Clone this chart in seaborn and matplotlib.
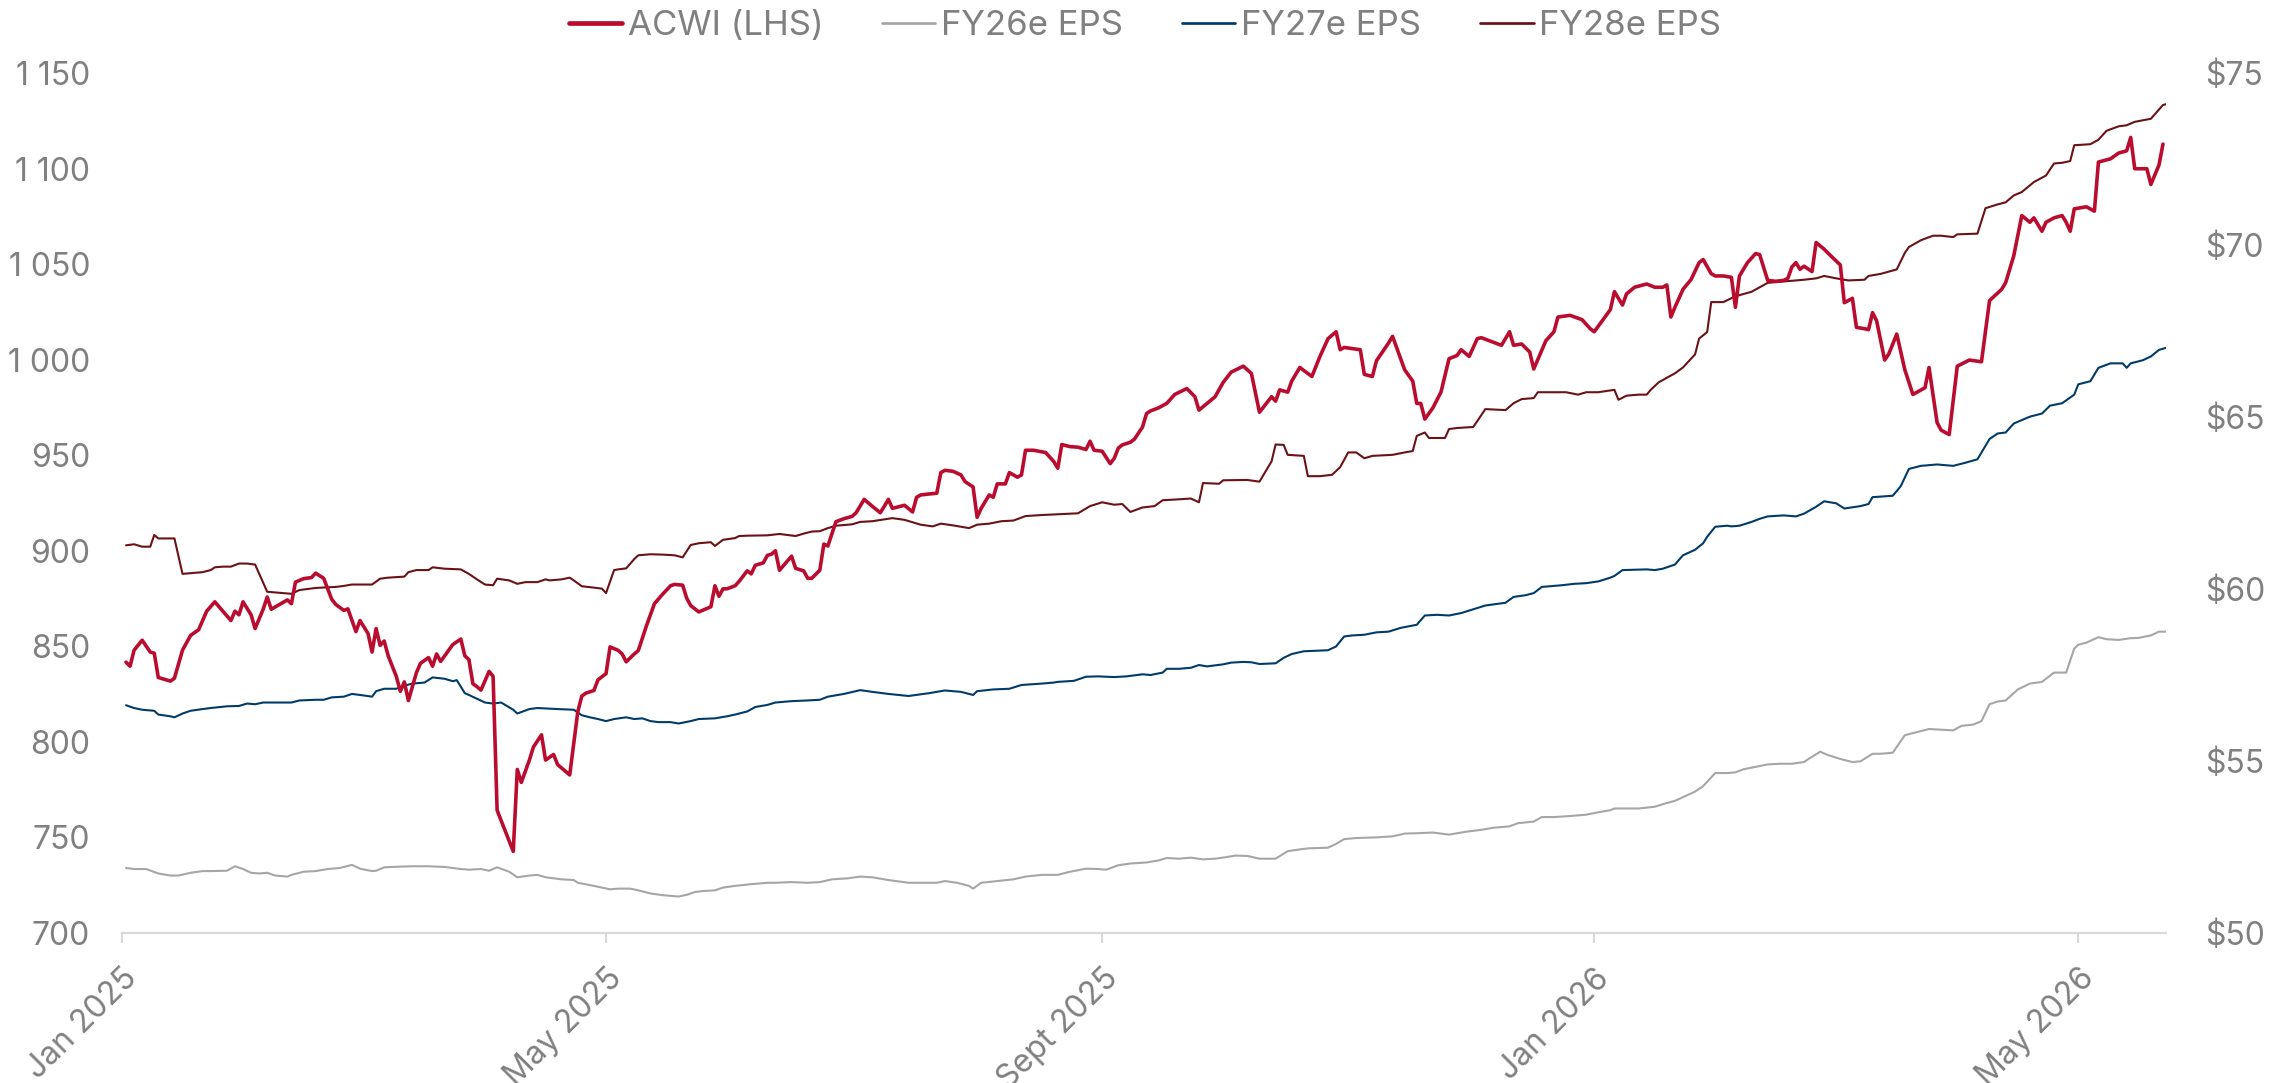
import pandas as pd
import seaborn as sns
import matplotlib.pyplot as plt
import matplotlib.transforms as mtransforms

# days counted from 1 Jan 2025
acwi_obs = [
    (1, 841.7), (2, 839.6), (3, 848.0), (5, 853.2), (7, 847.0), (8, 846.4), (9, 833.7), (12, 831.8),
    (13, 833.3), (15, 848.0), (17, 855.7), (19, 858.7), (21, 868.4), (23, 873.3), (25, 868.4), (27, 863.5),
    (28, 868.4), (29, 866.5), (30, 873.3), (32, 866.5), (33, 859.3), (35, 869.4), (36, 875.8), (37, 869.4),
    (41, 874.3), (42, 872.3), (43, 883.6), (45, 885.4), (47, 886.0), (48, 888.3), (50, 885.6), (52, 874.6),
    (53, 871.9), (55, 868.8), (56, 869.6), (58, 857.7), (59, 863.5), (61, 856.7), (62, 847.0), (63, 859.3),
    (64, 850.5), (65, 852.8), (66, 845.0), (68, 834.3), (69, 826.5), (70, 831.4), (71, 821.6), (73, 836.3),
    (74, 841.1), (76, 844.1), (77, 839.6), (78, 846.0), (79, 842.1), (82, 850.9), (84, 853.8), (85, 845.0),
    (86, 843.1), (87, 830.4), (88, 828.9), (89, 827.1), (91, 836.9), (92, 834.3), (93, 764.2), (95, 753.5),
    (97, 742.7), (98, 785.6), (99, 778.8), (101, 790.5), (102, 797.3), (104, 803.7), (105, 790.5), (107, 793.4),
    (108, 788.1), (111, 782.7), (113, 815.8), (114, 824.0), (115, 825.5), (117, 826.9), (118, 832.5), (120, 835.7),
    (121, 849.7), (123, 847.9), (124, 846.0), (125, 841.9), (127, 846.0), (128, 847.8), (130, 860.6), (132, 872.3),
    (134, 877.2), (136, 881.7), (137, 882.4), (139, 882.0), (140, 875.2), (141, 871.3), (143, 868.0), (145, 869.8),
    (146, 870.7), (147, 881.7), (148, 876.2), (149, 880.1), (150, 880.1), (152, 881.7), (153, 884.0), (155, 889.5),
    (156, 887.9), (157, 892.4), (159, 893.7), (160, 897.6), (161, 898.2), (162, 900.0), (163, 889.8), (166, 897.2),
    (167, 890.8), (169, 889.5), (170, 885.6), (171, 885.6), (173, 889.8), (174, 903.5), (175, 902.5), (177, 915.2),
    (179, 916.8), (181, 918.0), (182, 919.9), (184, 926.9), (186, 923.3), (188, 919.9), (189, 923.3), (190, 926.9),
    (191, 922.2), (193, 923.3), (194, 923.8), (196, 920.3), (197, 928.0), (198, 929.2), (200, 929.7), (202, 930.1),
    (203, 940.9), (204, 942.1), (206, 941.6), (208, 939.7), (209, 936.2), (211, 933.4), (212, 917.5), (213, 922.2),
    (215, 929.2), (216, 928.0), (217, 935.0), (219, 935.0), (220, 940.9), (222, 938.5), (223, 939.7), (224, 952.6),
    (226, 952.6), (229, 951.4), (231, 946.7), (232, 943.2), (233, 955.6), (235, 954.5), (237, 954.2), (239, 953.0),
    (240, 957.3), (241, 952.6), (243, 952.1), (245, 945.6), (246, 948.4), (247, 953.7), (248, 955.4), (250, 956.8),
    (251, 958.4), (253, 964.7), (254, 971.8), (255, 973.2), (257, 974.8), (259, 977.1), (261, 981.8), (264, 984.9),
    (266, 980.6), (267, 973.6), (269, 977.1), (271, 980.6), (273, 988.1), (275, 993.5), (278, 996.6), (280, 992.8),
    (282, 972.5), (285, 980.6), (286, 978.3), (287, 984.2), (289, 983.0), (290, 988.8), (292, 995.9), (295, 991.2),
    (297, 1001.7), (299, 1011.0), (301, 1014.6), (302, 1005.2), (303, 1006.4), (307, 1005.2), (308, 992.3), (310, 991.2),
    (311, 999.4), (314, 1008.7), (315, 1012.2), (318, 994.7), (320, 988.8), (321, 977.1), (322, 977.1), (323, 968.9),
    (325, 974.8), (327, 983.0), (329, 1000.5), (331, 1002.2), (332, 1005.2), (334, 1001.7), (336, 1011.0), (337, 1011.5),
    (339, 1009.9), (342, 1007.5), (344, 1014.6), (345, 1007.5), (347, 1008.2), (349, 1004.0), (350, 995.1), (353, 1009.9),
    (355, 1014.6), (356, 1022.3), (359, 1023.2), (362, 1020.9), (364, 1016.2), (365, 1014.6), (367, 1020.4), (369, 1026.2),
    (370, 1035.6), (372, 1028.6), (373, 1034.4), (375, 1037.9), (378, 1039.6), (380, 1037.9), (382, 1037.9), (383, 1039.1),
    (384, 1022.3), (385, 1027.4), (387, 1036.8), (389, 1041.9), (391, 1050.8), (392, 1052.4), (394, 1045.0), (395, 1043.8),
    (397, 1043.8), (399, 1043.1), (400, 1027.4), (401, 1043.8), (403, 1050.8), (405, 1055.5), (406, 1055.0), (408, 1041.5),
    (410, 1041.0), (412, 1041.5), (413, 1042.6), (414, 1048.5), (415, 1050.8), (416, 1047.3), (417, 1048.9), (419, 1046.1),
    (420, 1061.3), (422, 1057.8), (424, 1053.6), (426, 1049.6), (427, 1029.8), (429, 1032.1), (430, 1016.9), (432, 1016.2),
    (433, 1015.7), (434, 1024.6), (435, 1020.4), (437, 999.8), (438, 1002.9), (440, 1013.4), (442, 994.7), (444, 981.8),
    (447, 985.3), (448, 995.9), (450, 967.1), (451, 963.1), (453, 960.8), (455, 996.6), (458, 999.8), (461, 998.9),
    (463, 1030.9), (466, 1036.8), (467, 1040.3), (469, 1054.3), (471, 1075.4), (473, 1071.9), (474, 1074.2), (476, 1067.2),
    (477, 1071.9), (479, 1074.2), (481, 1075.4), (482, 1071.9), (483, 1067.2), (484, 1078.9), (487, 1080.0), (489, 1077.7),
    (490, 1103.4), (493, 1105.1), (495, 1108.1), (497, 1109.3), (498, 1116.3), (499, 1099.9), (502, 1099.9), (503, 1091.7),
    (505, 1101.8), (506, 1112.8),
]

fy26_obs = [
    (1, 51.89), (3, 51.86), (6, 51.86), (9, 51.73), (12, 51.67), (14, 51.67), (17, 51.75), (20, 51.80),
    (22, 51.80), (26, 51.81), (28, 51.94), (30, 51.86), (32, 51.75), (34, 51.73), (36, 51.75), (38, 51.67),
    (41, 51.64), (42, 51.69), (45, 51.78), (48, 51.80), (51, 51.86), (54, 51.89), (57, 51.98), (59, 51.87),
    (62, 51.80), (63, 51.81), (65, 51.91), (69, 51.93), (72, 51.94), (76, 51.94), (80, 51.92), (82, 51.89),
    (84, 51.86), (86, 51.84), (89, 51.86), (91, 51.81), (93, 51.91), (96, 51.78), (98, 51.62), (101, 51.67),
    (103, 51.69), (105, 51.62), (109, 51.56), (112, 51.54), (113, 51.46), (117, 51.37), (121, 51.27), (123, 51.29),
    (126, 51.29), (128, 51.24), (131, 51.15), (134, 51.10), (138, 51.06), (140, 51.11), (142, 51.19), (144, 51.22),
    (147, 51.24), (149, 51.32), (152, 51.37), (156, 51.42), (160, 51.46), (162, 51.46), (166, 51.48), (170, 51.46),
    (173, 51.48), (176, 51.56), (180, 51.59), (183, 51.64), (186, 51.62), (190, 51.54), (195, 51.46), (199, 51.46),
    (202, 51.46), (204, 51.51), (207, 51.46), (210, 51.37), (211, 51.29), (213, 51.46), (217, 51.51), (221, 51.56),
    (224, 51.64), (228, 51.69), (232, 51.69), (235, 51.78), (239, 51.87), (242, 51.86), (244, 51.84), (247, 51.97),
    (250, 52.02), (254, 52.05), (257, 52.11), (259, 52.18), (262, 52.16), (265, 52.19), (268, 52.14), (271, 52.16),
    (274, 52.21), (276, 52.25), (279, 52.24), (282, 52.16), (286, 52.16), (289, 52.38), (292, 52.43), (294, 52.46),
    (299, 52.48), (301, 52.59), (303, 52.73), (306, 52.76), (311, 52.78), (315, 52.81), (318, 52.89), (321, 52.90),
    (325, 52.92), (329, 52.86), (333, 52.94), (337, 53.00), (340, 53.06), (344, 53.10), (346, 53.19), (350, 53.24),
    (352, 53.37), (355, 53.37), (359, 53.40), (363, 53.44), (366, 53.51), (369, 53.57), (370, 53.62), (376, 53.62),
    (380, 53.67), (383, 53.78), (385, 53.84), (387, 53.95), (390, 54.11), (392, 54.27), (395, 54.65), (398, 54.65),
    (400, 54.67), (402, 54.76), (405, 54.83), (408, 54.90), (411, 54.92), (414, 54.92), (417, 54.97), (418, 55.05),
    (421, 55.27), (423, 55.17), (426, 55.06), (429, 54.97), (431, 54.99), (434, 55.21), (436, 55.21), (439, 55.24),
    (442, 55.75), (445, 55.84), (448, 55.93), (451, 55.91), (454, 55.89), (456, 56.02), (459, 56.06), (461, 56.16),
    (463, 56.65), (465, 56.73), (467, 56.76), (470, 57.08), (473, 57.25), (476, 57.30), (479, 57.57), (482, 57.57),
    (484, 58.27), (485, 58.38), (487, 58.44), (490, 58.60), (492, 58.54), (495, 58.52), (498, 58.57), (500, 58.58),
    (503, 58.65), (505, 58.76), (507, 58.76),
]

fy27_obs = [
    (1, 56.62), (3, 56.54), (5, 56.49), (8, 56.46), (9, 56.35), (12, 56.30), (13, 56.27), (15, 56.38),
    (17, 56.46), (20, 56.51), (22, 56.54), (26, 56.59), (29, 56.60), (31, 56.67), (33, 56.65), (35, 56.70),
    (39, 56.70), (42, 56.70), (44, 56.76), (48, 56.78), (50, 56.78), (52, 56.85), (55, 56.87), (57, 56.95),
    (59, 56.92), (62, 56.87), (63, 57.03), (65, 57.10), (68, 57.10), (70, 57.19), (72, 57.25), (75, 57.28),
    (77, 57.43), (80, 57.39), (82, 57.32), (83, 57.35), (85, 56.97), (86, 56.92), (88, 56.81), (90, 56.70),
    (92, 56.67), (94, 56.70), (95, 56.63), (97, 56.49), (98, 56.38), (101, 56.51), (103, 56.54), (108, 56.51),
    (112, 56.49), (114, 56.33), (116, 56.27), (118, 56.22), (120, 56.16), (122, 56.22), (125, 56.27), (127, 56.22),
    (129, 56.24), (131, 56.16), (133, 56.13), (136, 56.13), (138, 56.09), (141, 56.16), (143, 56.22), (147, 56.24),
    (150, 56.30), (152, 56.35), (155, 56.44), (157, 56.57), (160, 56.63), (162, 56.70), (166, 56.74), (170, 56.76),
    (173, 56.78), (175, 56.87), (179, 56.95), (183, 57.06), (186, 57.01), (190, 56.95), (195, 56.89), (200, 56.97),
    (204, 57.05), (208, 57.01), (211, 56.92), (212, 57.03), (216, 57.08), (220, 57.10), (223, 57.21), (228, 57.25),
    (231, 57.28), (232, 57.30), (236, 57.33), (239, 57.45), (242, 57.46), (246, 57.44), (249, 57.46), (253, 57.52),
    (255, 57.50), (258, 57.57), (259, 57.68), (262, 57.68), (265, 57.71), (267, 57.79), (269, 57.75), (273, 57.81),
    (275, 57.86), (278, 57.88), (280, 57.87), (282, 57.82), (286, 57.84), (288, 58.00), (290, 58.11), (293, 58.19),
    (299, 58.22), (301, 58.33), (303, 58.62), (305, 58.65), (308, 58.67), (311, 58.74), (314, 58.76), (317, 58.87),
    (321, 58.96), (323, 59.23), (326, 59.25), (329, 59.23), (332, 59.30), (335, 59.41), (338, 59.52), (343, 59.60),
    (345, 59.77), (348, 59.82), (350, 59.88), (352, 60.06), (354, 60.08), (357, 60.11), (360, 60.15), (363, 60.17),
    (366, 60.22), (369, 60.33), (370, 60.38), (372, 60.55), (378, 60.57), (380, 60.55), (382, 60.59), (385, 60.71),
    (387, 60.98), (390, 61.14), (392, 61.33), (393, 61.52), (395, 61.81), (398, 61.84), (399, 61.82), (401, 61.84),
    (404, 61.95), (406, 62.04), (408, 62.11), (412, 62.14), (415, 62.11), (417, 62.19), (420, 62.39), (422, 62.55),
    (425, 62.49), (427, 62.34), (431, 62.41), (433, 62.47), (434, 62.67), (439, 62.71), (441, 62.99), (443, 63.49),
    (446, 63.58), (450, 63.62), (454, 63.58), (457, 63.67), (460, 63.77), (463, 64.36), (465, 64.52), (467, 64.55),
    (469, 64.81), (473, 65.01), (476, 65.10), (478, 65.33), (481, 65.40), (484, 65.65), (485, 65.95), (488, 66.04),
    (490, 66.43), (493, 66.56), (496, 66.56), (497, 66.43), (498, 66.56), (501, 66.65), (503, 66.76), (505, 66.95),
    (507, 67.02),
]

fy28_obs = [
    (1, 61.27), (3, 61.30), (5, 61.23), (7, 61.23), (8, 61.57), (9, 61.47), (13, 61.47), (15, 60.44),
    (17, 60.46), (20, 60.49), (22, 60.55), (23, 60.63), (25, 60.65), (27, 60.65), (29, 60.74), (31, 60.74),
    (33, 60.71), (36, 59.92), (38, 59.90), (42, 59.86), (44, 59.97), (48, 60.03), (51, 60.05), (53, 60.06),
    (55, 60.09), (57, 60.13), (62, 60.13), (64, 60.30), (66, 60.33), (70, 60.36), (71, 60.49), (73, 60.55),
    (76, 60.55), (77, 60.63), (80, 60.59), (84, 60.57), (86, 60.44), (88, 60.28), (90, 60.13), (92, 60.11),
    (93, 60.30), (96, 60.25), (98, 60.15), (100, 60.20), (103, 60.20), (105, 60.28), (106, 60.25), (109, 60.28),
    (111, 60.33), (112, 60.25), (114, 60.08), (117, 60.04), (119, 60.01), (120, 59.88), (122, 60.55), (123, 60.57),
    (125, 60.60), (127, 60.87), (128, 60.98), (131, 61.01), (134, 61.00), (137, 60.98), (139, 60.92), (141, 61.28),
    (143, 61.33), (146, 61.36), (147, 61.25), (149, 61.43), (152, 61.48), (153, 61.54), (155, 61.55), (160, 61.56),
    (163, 61.60), (165, 61.57), (167, 61.54), (169, 61.61), (171, 61.67), (173, 61.68), (175, 61.77), (177, 61.84),
    (181, 61.88), (183, 61.95), (186, 61.97), (191, 62.06), (194, 62.01), (198, 61.87), (201, 61.82), (203, 61.90),
    (206, 61.85), (210, 61.77), (212, 61.87), (215, 61.90), (218, 61.97), (221, 61.99), (224, 62.12), (228, 62.15),
    (237, 62.20), (240, 62.41), (243, 62.52), (246, 62.45), (248, 62.47), (250, 62.24), (253, 62.37), (256, 62.41),
    (258, 62.58), (261, 62.60), (265, 62.63), (267, 62.52), (268, 63.08), (272, 63.06), (273, 63.16), (279, 63.17),
    (282, 63.12), (285, 63.71), (286, 64.20), (288, 64.19), (289, 63.90), (293, 63.87), (294, 63.28), (297, 63.28),
    (300, 63.32), (302, 63.54), (304, 63.97), (306, 63.97), (308, 63.80), (310, 63.87), (315, 63.90), (318, 63.97),
    (320, 64.01), (321, 64.45), (323, 64.55), (324, 64.39), (328, 64.39), (329, 64.65), (331, 64.68), (335, 64.71),
    (336, 64.88), (338, 65.23), (343, 65.20), (345, 65.40), (347, 65.52), (350, 65.55), (351, 65.72), (354, 65.72),
    (358, 65.72), (361, 65.65), (363, 65.72), (366, 65.72), (370, 65.79), (371, 65.50), (373, 65.62), (376, 65.65),
    (378, 65.65), (379, 65.79), (381, 66.01), (383, 66.14), (385, 66.27), (387, 66.44), (390, 66.82), (391, 67.28),
    (393, 67.47), (394, 68.34), (397, 68.34), (400, 68.51), (404, 68.64), (406, 68.77), (408, 68.90), (412, 68.94),
    (417, 68.99), (420, 69.03), (422, 69.10), (425, 69.03), (428, 68.97), (432, 68.99), (433, 69.10), (436, 69.16),
    (440, 69.29), (442, 69.77), (443, 69.94), (446, 70.14), (449, 70.27), (451, 70.27), (454, 70.23), (455, 70.31),
    (460, 70.33), (462, 71.07), (465, 71.18), (467, 71.24), (469, 71.44), (471, 71.54), (474, 71.83), (477, 72.02),
    (479, 72.37), (481, 72.39), (483, 72.44), (484, 72.90), (488, 72.93), (490, 73.06), (492, 73.32), (495, 73.45),
    (497, 73.48), (499, 73.58), (503, 73.67), (506, 74.07), (507, 74.10),
]

tick_dates = ["2025-01-01", "2025-05-01", "2025-09-01", "2026-01-01", "2026-05-01"]
tick_labels = ["Jan 2025", "May 2025", "Sept 2025", "Jan 2026", "May 2026"]

series_names = ["ACWI (LHS)", "FY26e EPS", "FY27e EPS", "FY28e EPS"]
colors = ["#BA0C2F", "#A6A6A6", "#003B6A", "#6B1216"]

start = pd.Timestamp("2025-01-01")


def to_frame(obs):
    df = pd.DataFrame(obs, columns=["day", "value"])
    df["date"] = start + pd.to_timedelta(df["day"], unit="D")
    return df


sns.set_theme(style="white")
plt.rcParams["font.family"] = ["Inter", "DejaVu Sans"]
text_grey = "#808080"
axis_grey = "#D9D9D9"
fs = 23

fig = plt.figure(figsize=(22.9, 10.83), dpi=100)
ax = fig.add_axes([122 / 2290, 1 - 933 / 1083, 2044 / 2290, 860 / 1083])
ax2 = ax.twinx()

sns.lineplot(data=to_frame(acwi_obs), x="date", y="value", ax=ax,
             color=colors[0], linewidth=2.6, label=series_names[0], legend=False)
for obs, name, col in zip([fy26_obs, fy27_obs, fy28_obs], series_names[1:], colors[1:]):
    sns.lineplot(data=to_frame(obs), x="date", y="value", ax=ax2,
                 color=col, linewidth=1.5, label=name, legend=False)

# ACWI drawn above the EPS lines
ax.set_zorder(ax2.get_zorder() + 1)
ax.patch.set_visible(False)

ax.set_xlim(start, pd.Timestamp("2026-05-22 18:00"))
ax.set_ylim(700, 1150)
ax2.set_ylim(50, 75)
ax.set_yticks(range(700, 1151, 50))
ax.set_yticklabels([f"{v:,}".replace(",", " ") for v in range(700, 1151, 50)])
ax2.set_yticks(range(50, 76, 5))
ax2.set_yticklabels([f"${v}" for v in range(50, 76, 5)])

ax.set_xticks(pd.to_datetime(tick_dates))
ax.set_xticklabels(tick_labels, rotation=45, ha="right", va="top", rotation_mode="anchor")
shift = mtransforms.ScaledTranslation(7 / 100, 0, fig.dpi_scale_trans)
for lab in ax.get_xticklabels():
    lab.set_transform(lab.get_transform() + shift)

ax.set_xlabel("")
ax.set_ylabel("")
ax2.set_ylabel("")

for a in (ax, ax2):
    for s in a.spines.values():
        s.set_visible(False)
ax.spines["bottom"].set_visible(True)
ax.spines["bottom"].set_color(axis_grey)
ax.spines["bottom"].set_linewidth(1.6)

ax.tick_params(axis="x", bottom=True, length=7.5, width=1.4, color=axis_grey,
               labelsize=fs, labelcolor=text_grey, pad=14)
ax.tick_params(axis="y", left=False, length=0, labelsize=fs, labelcolor=text_grey, pad=23)
ax2.tick_params(axis="y", right=False, length=0, labelsize=fs, labelcolor=text_grey, pad=28)
ax.grid(False)
ax2.grid(False)

h1, l1 = ax.get_legend_handles_labels()
h2, l2 = ax2.get_legend_handles_labels()
leg = fig.legend(h1 + h2, l1 + l2, loc="center", bbox_to_anchor=(0.5, 1 - 26 / 1083),
                 ncol=4, frameon=False, fontsize=25, labelcolor=text_grey,
                 handlelength=1.53, handletextpad=0.17, columnspacing=1.7)
for line in leg.get_lines():
    line.set_linewidth(line.get_linewidth() * 1.3)

fig.savefig("out.png", dpi=100)
